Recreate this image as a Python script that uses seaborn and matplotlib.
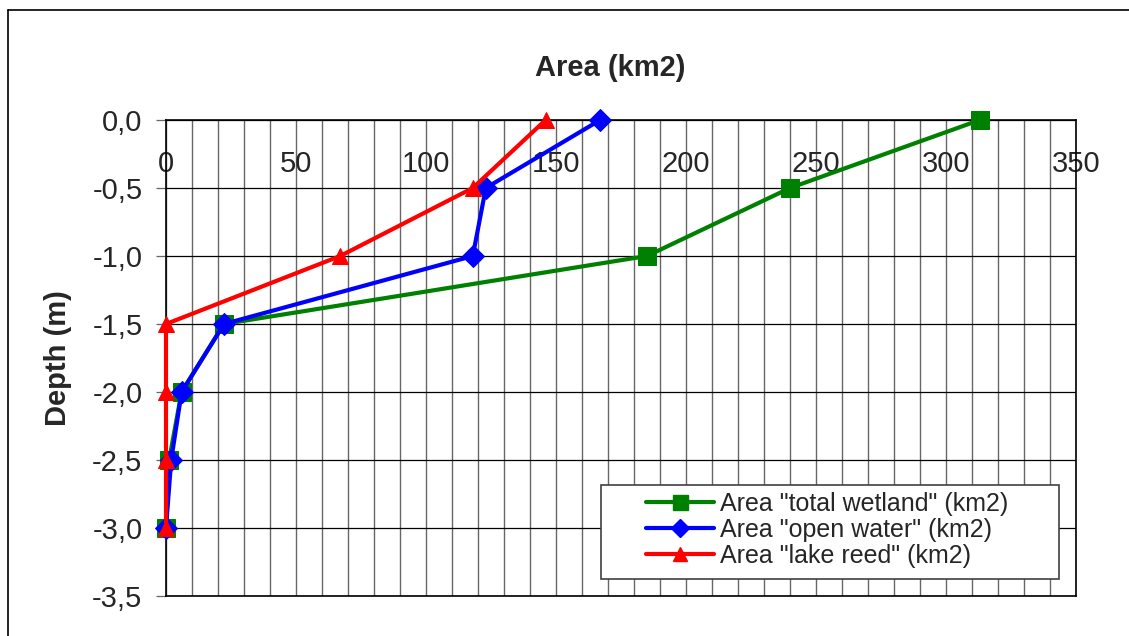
import matplotlib
matplotlib.use("Agg")
import matplotlib.pyplot as plt
import seaborn as sns
import pandas as pd
from matplotlib.ticker import MultipleLocator, FuncFormatter
from matplotlib.patches import Rectangle
from matplotlib.lines import Line2D

depth = [0.0, -0.5, -1.0, -1.5, -2.0, -2.5, -3.0]
total_wetland = [313, 240, 185, 22.3, 6, 1.2, 0]
open_water = [167, 123, 118, 22.3, 6, 2, 0]
lake_reed = [146, 118, 67, 0, 0, 0, 0]

labels = ['Area "total wetland" (km2)', 'Area "open water" (km2)', 'Area "lake reed" (km2)']
colors = ["#008000", "#0000FF", "#FF0000"]
markers = ["s", "D", "^"]
msizes = [13.5, 11, 12]

df = pd.DataFrame({"depth": depth * 3,
                   "area": total_wetland + open_water + lake_reed,
                   "series": [labels[0]] * 7 + [labels[1]] * 7 + [labels[2]] * 7})

sns.set_style("white")
plt.rcParams["font.family"] = ["Liberation Sans", "DejaVu Sans"]

fig = plt.figure(figsize=(11.29, 6.36), dpi=100)
ax = fig.add_axes([166 / 1129, 1 - 596 / 636, 910 / 1129, 476 / 636])

for lab, c, m, ms in zip(labels, colors, markers, msizes):
    sub = df[df["series"] == lab]
    sns.lineplot(data=sub, x="area", y="depth", sort=False, estimator=None,
                 color=c, marker=m, markersize=ms, markeredgecolor=c,
                 linewidth=3.0, ax=ax, legend=False, clip_on=False, zorder=3)

ax.set_xlim(0, 350)
ax.set_ylim(-3.5, 0)
ax.xaxis.set_major_locator(MultipleLocator(50))
ax.xaxis.set_minor_locator(MultipleLocator(10))
ax.yaxis.set_major_locator(MultipleLocator(0.5))
ax.yaxis.set_major_formatter(FuncFormatter(lambda v, p: f"{v:.1f}".replace(".", ",")))

ax.grid(which="major", axis="y", color="black", linewidth=0.9)
ax.grid(which="both", axis="x", color="#666666", linewidth=1.0)
ax.set_axisbelow(True)

ax.tick_params(axis="x", which="both", top=False, bottom=False,
               labeltop=True, labelbottom=False, pad=-45, labelsize=21)
ax.tick_params(axis="y", which="major", left=True, length=7, width=0.9,
               pad=10, labelsize=21, color="#666666")

for s in ["left", "top", "bottom", "right"]:
    ax.spines[s].set_visible(True)
    ax.spines[s].set_color("black")
    ax.spines[s].set_linewidth(1.2)

ax.set_xlabel("")
ax.set_ylabel("Depth (m)", fontsize=21, fontweight="bold")
ax.yaxis.set_label_coords(-0.103, 0.5)

fig.text(610 / 1129, 1 - 68 / 636, "Area (km2)", fontsize=21, fontweight="bold",
         ha="center", va="center")

# legend box
ax.add_patch(Rectangle(((601 - 166) / 910, (596 - 579) / 476), 458 / 910, 94 / 476,
                       transform=ax.transAxes, facecolor="white", edgecolor="#404040",
                       linewidth=1.2, zorder=4.5))
handles = [Line2D([], [], color=c, marker=m, markersize=ms * 0.8, markeredgecolor=c, linewidth=3.0)
           for c, m, ms in zip(colors, markers, msizes)]
ax.legend(handles, labels, loc="upper left", bbox_to_anchor=((646 - 166) / 910, (596 - 492) / 476),
          frameon=False, fontsize=18, handlelength=2.7, handletextpad=0.25,
          labelspacing=0.08, borderpad=0, borderaxespad=0)

# outer chart border
fig.add_artist(Line2D([8 / 1129, 1], [1 - 10 / 636, 1 - 10 / 636], color="black", linewidth=1.2))
fig.add_artist(Line2D([8 / 1129, 8 / 1129], [0, 1 - 10 / 636], color="black", linewidth=1.2))

fig.savefig("out.png", dpi=100)
